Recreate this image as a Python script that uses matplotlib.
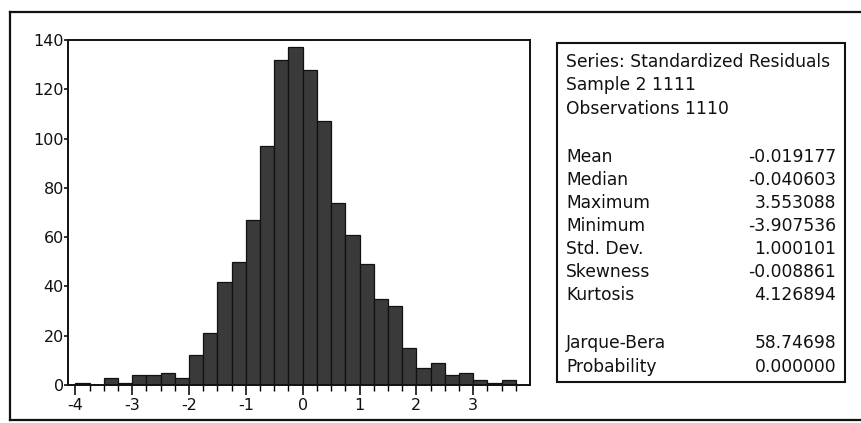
import numpy as np
import matplotlib.pyplot as plt
from matplotlib.patches import Rectangle
from matplotlib.lines import Line2D

plt.rcParams['font.family'] = ['DejaVu Sans']
plt.rcParams['axes.unicode_minus'] = False

# Histogram of standardized residuals, bins of width 0.25
bin_edges = np.arange(-4.0, 3.76, 0.25)
counts = np.array([1, 0, 3, 1, 4, 4, 5, 3,
                   12, 21, 42, 50, 67, 97, 132, 137, 128, 107, 74, 61, 49, 35, 32, 15, 7, 9,
                   4, 5, 2, 1, 2])

# Descriptive statistics shown beside the histogram
header_lines = ['Series: Standardized Residuals', 'Sample 2 1111', 'Observations 1110']
stat_names = ['Mean', 'Median', 'Maximum', 'Minimum', 'Std. Dev.', 'Skewness', 'Kurtosis']
stat_values = ['-0.019177', '-0.040603', '3.553088', '-3.907536', '1.000101', '-0.008861', '4.126894']
test_names = ['Jarque-Bera', 'Probability']
test_values = ['58.74698', '0.000000']

W, H = 861, 423
fig = plt.figure(figsize=(W / 100, H / 100), dpi=100)

def fx(px):
    return px / W

def fy(py):
    return 1 - py / H

ax = fig.add_axes([fx(68), fy(385), fx(530) - fx(68), fy(40) - fy(385)])
ax.bar(bin_edges[:-1], counts, width=0.25, align='edge',
       color='#3a3a3a', edgecolor='#111111', linewidth=0.9)
ax.set_xlim(-4.13, 4.0)
ax.set_ylim(0, 140)
ax.set_yticks(np.arange(0, 141, 20))
ax.set_xticks(np.arange(-4, 4, 1))
ax.set_xticks(np.arange(-4, 3.76, 0.25), minor=True)
ax.tick_params(axis='both', direction='out', labelsize=11.5, colors='#111111', width=1.2)
ax.tick_params(axis='x', which='major', length=7, pad=2)
ax.tick_params(axis='x', which='minor', length=4, width=1.0)
ax.tick_params(axis='y', length=3, pad=0)
for side in ax.spines.values():
    side.set_linewidth(1.4)
    side.set_color('#111111')

# Outer frame around the whole figure
frame_kw = dict(color='#111111', linewidth=1.6, transform=fig.transFigure)
fig.add_artist(Line2D([fx(10), fx(10)], [fy(12), fy(420)], **frame_kw))
fig.add_artist(Line2D([fx(10), 1], [fy(12), fy(12)], **frame_kw))
fig.add_artist(Line2D([fx(10), 1], [fy(420), fy(420)], **frame_kw))

# Statistics panel
fig.add_artist(Rectangle((fx(557), fy(382)), fx(845) - fx(557), fy(43) - fy(382),
                         transform=fig.transFigure, fill=False,
                         edgecolor='#111111', linewidth=1.5))
tx_left, tx_right = fx(566), fx(836)
text_kw = dict(fontsize=12.3, color='#111111', va='center')
for i, line in enumerate(header_lines):
    fig.text(tx_left, fy(62 + 23.5 * i), line, ha='left', **text_kw)
for i, (name, val) in enumerate(zip(stat_names, stat_values)):
    y = fy(157 + 23 * i)
    fig.text(tx_left, y, name, ha='left', **text_kw)
    fig.text(tx_right, y, val, ha='right', **text_kw)
for i, (name, val) in enumerate(zip(test_names, test_values)):
    y = fy(343 + 23.5 * i)
    fig.text(tx_left, y, name, ha='left', **text_kw)
    fig.text(tx_right, y, val, ha='right', **text_kw)

fig.savefig('out.png', dpi=100)
